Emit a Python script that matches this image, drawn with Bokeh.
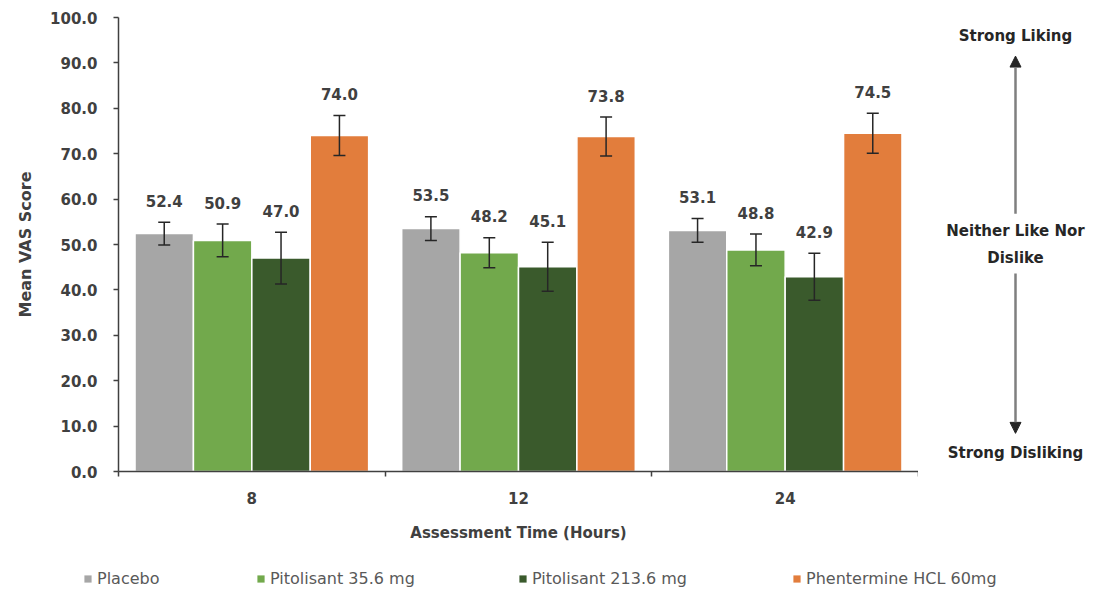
from bokeh.plotting import figure
from bokeh.layouts import row, column
from bokeh.models import (ColumnDataSource, Range1d, FixedTicker, Whisker, TeeHead,
                          Arrow, NormalHead, Legend, LegendItem, PrintfTickFormatter)
from bokeh.core.properties import value
from bokeh.embed import file_html
from bokeh.resources import INLINE

# Assessment times (hours) and treatment arms
hours = ["8", "12", "24"]
treatments = ["Placebo", "Pitolisant 35.6 mg", "Pitolisant 213.6 mg", "Phentermine HCL 60mg"]
colors = ["#a6a6a6", "#72a94c", "#3a5a2c", "#e27d3c"]

# Mean VAS scores per treatment, one value per assessment time
placebo = [52.4, 53.5, 53.1]
pito_35 = [50.9, 48.2, 48.8]
pito_213 = [47.0, 45.1, 42.9]
phentermine = [74.0, 73.8, 74.5]

# Error bar half-widths
placebo_err = [2.5, 2.6, 2.6]
pito_35_err = [3.6, 3.3, 3.5]
pito_213_err = [5.7, 5.4, 5.2]
phentermine_err = [4.4, 4.3, 4.4]

means = [placebo, pito_35, pito_213, phentermine]
errs = [placebo_err, pito_35_err, pito_213_err, phentermine_err]

# Liking scale shown beside the chart
scale_top = "Strong Liking"
scale_mid = ["Neither Like Nor", "Dislike"]
scale_bottom = "Strong Disliking"

FONT = "DejaVu Sans"
TXT = "#404040"
BAR_W = 0.219
LABEL_GAP = 4.7  # value units between error bar top and value label centre

TOP, BOTTOM = 17, 74
main = figure(width=918, height=545, output_backend="svg", toolbar_location=None,
              x_range=Range1d(0, len(hours)), y_range=Range1d(0, 100),
              min_border_left=118, min_border_right=0, min_border_top=TOP,
              min_border_bottom=BOTTOM)
main.outline_line_color = None
main.xgrid.grid_line_color = None
main.ygrid.grid_line_color = None

for j, (name, col) in enumerate(zip(treatments, colors)):
    xs = [i + 0.5 + (j - 1.5) * BAR_W for i in range(len(hours))]
    upper = [m + e for m, e in zip(means[j], errs[j])]
    src = ColumnDataSource(dict(
        x=xs, top=means[j], upper=upper,
        lower=[m - e for m, e in zip(means[j], errs[j])],
        label_y=[u + LABEL_GAP for u in upper],
        lab=[f"{m:.1f}" for m in means[j]],
    ))
    main.vbar(x="x", top="top", width=BAR_W, source=src, fill_color=col,
              line_color="white", line_width=1.5)
    w = Whisker(source=src, base="x", upper="upper", lower="lower",
                line_color="#262626", line_width=1.5, level="overlay",
                upper_head=TeeHead(size=12, line_color="#262626", line_width=1.5),
                lower_head=TeeHead(size=12, line_color="#262626", line_width=1.5))
    main.add_layout(w)
    main.text(x="x", y="label_y", text="lab", source=src, text_align="center",
              text_baseline="middle", text_font=value(FONT),
              text_font_style="bold", text_font_size="15px", text_color=TXT)

# Y axis
main.yaxis.ticker = FixedTicker(ticks=list(range(0, 101, 10)))
main.yaxis.formatter = PrintfTickFormatter(format="%.1f")
main.yaxis.axis_label = "Mean VAS Score"
main.yaxis.major_tick_out = 5
main.yaxis.major_tick_in = 0
main.yaxis.major_label_standoff = 16
main.yaxis.axis_label_standoff = 12

# X axis: labels at group centres, tick marks at group boundaries
main.xaxis.ticker = FixedTicker(ticks=[i + 0.5 for i in range(len(hours))],
                                minor_ticks=list(range(len(hours) + 1)))
main.xaxis.major_label_overrides = {i + 0.5: h for i, h in enumerate(hours)}
main.xaxis.axis_label = "Assessment Time (Hours)"
main.xaxis.major_tick_out = 0
main.xaxis.major_tick_in = 0
main.xaxis.minor_tick_out = 5
main.xaxis.minor_tick_in = 0
main.xaxis.major_label_standoff = 15
main.xaxis.axis_label_standoff = 17

for ax in (main.xaxis, main.yaxis):
    ax.axis_line_color = "#404040"
    ax.axis_line_width = 1.5
    ax.major_tick_line_color = "#404040"
    ax.minor_tick_line_color = "#404040"
    ax.major_tick_line_width = 1.5
    ax.minor_tick_line_width = 1.5
    ax.major_label_text_font = FONT
    ax.major_label_text_font_style = "bold"
    ax.major_label_text_font_size = "15px"
    ax.major_label_text_color = TXT
    ax.axis_label_text_font = FONT
    ax.axis_label_text_font_style = "bold"
    ax.axis_label_text_color = TXT
main.yaxis.minor_tick_line_color = None
main.yaxis.axis_label_text_font_size = "16px"
main.xaxis.axis_label_text_font_size = "15px"

# Liking scale panel, sharing the value scale of the chart
side = figure(width=175, height=545, output_backend="svg", toolbar_location=None,
              x_range=Range1d(0, 175), y_range=main.y_range,
              x_axis_type=None, y_axis_type=None,
              min_border_left=0, min_border_right=0, min_border_top=TOP,
              min_border_bottom=BOTTOM)
side.outline_line_color = None
side.xgrid.grid_line_color = None
side.ygrid.grid_line_color = None
cx = 97
scale_src = ColumnDataSource(dict(
    x=[cx] * 4,
    y=[95.9, 53.0, 47.1, 4.0],
    t=[scale_top] + scale_mid + [scale_bottom],
))
side.text(x="x", y="y", text="t", source=scale_src, text_align="center",
          text_baseline="middle", text_font=value(FONT), text_font_style="bold",
          text_font_size="15px", text_color="#262626")
for y0, y1 in [(56.8, 91.5), (43.6, 8.4)]:
    side.add_layout(Arrow(x_start=cx, y_start=y0, x_end=cx, y_end=y1,
                          line_color="#7f7f7f", line_width=2.5,
                          end=NormalHead(size=11, fill_color="#262626",
                                         line_color="#262626", line_width=1)))

# Legend strip
leg = figure(width=1093, height=46, output_backend="svg", toolbar_location=None,
             x_range=Range1d(0, 1093), y_range=Range1d(0, 46),
             x_axis_type=None, y_axis_type=None,
             min_border_left=0, min_border_right=0, min_border_top=0,
             min_border_bottom=0)
leg.outline_line_color = None
leg.xgrid.grid_line_color = None
leg.ygrid.grid_line_color = None
legend_x = [83, 256, 518, 792]
for name, col, lx in zip(treatments, colors, legend_x):
    # zero-height swatch source kept outside the visible strip
    swatch = leg.vbar(x=[-500], top=[0], width=1, fill_color=col, line_color=None)
    lg = Legend(items=[LegendItem(label=name, renderers=[swatch])],
                location=(lx, 3), orientation="horizontal",
                glyph_width=9, glyph_height=9, label_standoff=5,
                padding=0, margin=0, border_line_color=None,
                background_fill_alpha=0, label_text_font=FONT,
                label_text_font_size="16px", label_text_color="#595959",
                label_height=20)
    leg.add_layout(lg, "center")

layout = column(row(main, side, spacing=0), leg, spacing=0)
open("out.html", "w").write(file_html(layout, INLINE))
